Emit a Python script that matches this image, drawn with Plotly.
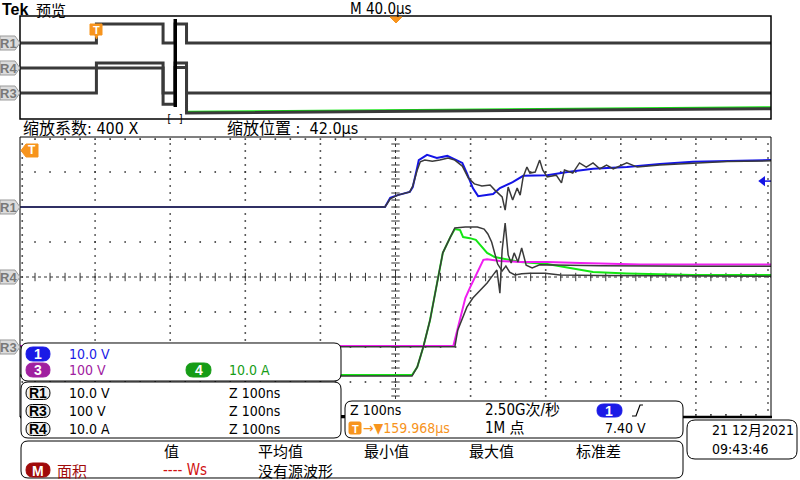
import plotly.graph_objects as go

W, H = 800, 480
FONT = "DejaVu Sans Condensed, Liberation Sans Narrow, Noto Sans CJK SC, sans-serif"
CJK = "Noto Sans CJK SC, sans-serif"
BOLD = "Liberation Sans, DejaVu Sans, sans-serif"

# channel settings: (units per div, offset in div)
CH1 = (10.0, 2.0)     # 10.0 V/div
CH3 = (100.0, -2.0)   # 100 V/div
CH4 = (10.0, 0.0)     # 10.0 A/div
TRIG_LEVEL = 7.40     # V on ch1
TRIG_US = 40.7        # trigger point in record (us)
ZOOM_POS_US = 42.0

# main window, zoomed: time in ns around the zoom position
ch1_t = [-500, -14, -7, 3, 19, 23, 29, 31, 42, 55, 69, 82, 89, 95, 103, 110, 130, 139,
         156, 170, 202, 229, 263, 308, 352, 396, 441, 500]
ch1_v = [0, 0, 2.6, 3.4, 4.3, 5.7, 11.4, 13.4, 14.9, 14.0, 14.6, 13.4, 12.6, 9.7, 5.4, 3.1,
         3.7, 5.4, 7.1, 8.9, 9.1, 10.0, 10.9, 11.4, 12.3, 12.9, 13.1, 13.4]

r1_t = [-500, -14, -7, 3, 19, 23, 29, 33, 39, 49, 59, 70, 79, 89, 97, 105, 115, 126, 132,
        136, 142, 146, 150, 156, 162, 166, 170, 175, 179, 186, 190, 192, 196, 202, 214,
        221, 225, 236, 245, 254, 263, 272, 281, 290, 308, 322, 352, 396, 441, 500]
r1_v = [0, 0, 2.3, 3.4, 4.3, 6.0, 10.6, 12.9, 13.4, 13.1, 13.4, 14.0, 13.4, 11.7, 8.3, 6.6,
        6.0, 6.3, 4.9, 4.0, 2.9, -0.9, 5.7, 2.0, 5.4, 3.4, 8.6, 11.4, 9.7, 10.0, 12.6, 13.4,
        10.6, 8.6, 9.1, 6.9, 10.6, 9.7, 12.6, 11.4, 12.6, 10.9, 12.0, 10.9, 12.6, 11.4,
        12.0, 12.6, 13.0, 13.2]

ch3_t = [-500, 77, 82, 86, 93, 99, 103, 109, 113, 117, 122, 139, 166, 202, 246, 326, 405, 500]
ch3_v = [3, 3, 46, 83, 140, 169, 186, 211, 229, 249, 251, 246, 243, 243, 240, 236, 236, 236]

r3_t = [-500, 79, 83, 89, 95, 103, 113, 122, 130, 135, 139, 142, 146, 150, 154, 158, 163,
        168, 174, 182, 192, 219, 272, 405, 500]
r3_v = [1, 1, 49, 83, 114, 140, 163, 183, 206, 220, 154, 277, 354, 263, 240, 269, 243,
        283, 234, 226, 235, 234, 232, 231, 231]

ch4_t = [-500, 22, 29, 37, 46, 55, 63, 73, 79, 86, 90, 99, 107, 113, 122, 132, 146, 166,
         202, 232, 263, 308, 396, 500]
ch4_a = [-28.0, -28.0, -25.7, -20.0, -12.3, -1.7, 6.9, 11.4, 13.7, 13.4, 11.4, 11.1, 10.6,
         9.1, 6.9, 5.7, 5.1, 4.3, 3.7, 2.6, 1.4, 1.0, 0.6, 0.6]

r4_t = [-500, 22, 29, 37, 46, 55, 63, 73, 79, 93, 109, 118, 123, 128, 132, 136, 142, 147,
        152, 159, 168, 179, 199, 219, 272, 405, 500]
r4_a = [-28.3, -28.3, -25.7, -20.0, -12.3, -1.7, 6.9, 11.4, 14.0, 14.3, 14.3, 13.7, 12.3,
        10.0, 7.1, 3.7, 1.7, 3.1, 1.4, 0.6, 0.9, 1.1, 1.1, 0.6, 0.4, 0.2, 0.2]

# overview record: time in us
ov_t = [0, 40.7, 40.7, 76.2, 76.2, 82.6, 82.6, 88.7, 88.7, 400]
r1o_v = [0, 0, 15.2, 15.2, 0, 0, 15.2, 15.2, 0, 0]
r3o_v = [0, 0, 240, 240, 0, 0, 240, 240, 0, 0]
r4o_t = [0, 76.2, 76.2, 82.6, 82.6, 88.7, 88.7, 400]
r4o_a = [0, 0, -29, -29, 0.5, 0.5, -36, -32.5]
ch4o_t = [88.7, 400]
ch4o_a = [-35, -31.3]


def div(vals, ch):
    s, o = ch
    return [v / s + o for v in vals]


def fx(x):
    return round(x / W, 5)


def fy(y):
    return round(1 - y / H, 5)


fig = go.Figure()

# ---- graticule of main window
gx, gy = [], []
for k in (-3, -2, -1, 1, 2, 3):
    for i in range(-24, 25):
        gx.append(i * 20)
        gy.append(k)
for k in (-400, -300, -200, -100, 100, 200, 300, 400):
    for j in range(-19, 20):
        gx.append(k)
        gy.append(j * 0.2)
fig.add_trace(go.Scatter(x=gx, y=gy, mode="markers",
                         marker=dict(symbol="square", size=1.6, color="#333"),
                         hoverinfo="skip"))
tx = [i * 20 for i in range(-24, 25)]
ty = [j * 0.2 for j in range(-19, 20)]
fig.add_trace(go.Scatter(x=tx, y=[0] * len(tx), mode="markers", hoverinfo="skip",
                         marker=dict(symbol="line-ns", size=6, line=dict(width=1, color="#333"))))
fig.add_trace(go.Scatter(x=[0] * len(ty), y=ty, mode="markers", hoverinfo="skip",
                         marker=dict(symbol="line-ew", size=6, line=dict(width=1, color="#333"))))
ex = tx + tx + [-497] * len(ty) + [496] * len(ty)
ey = [3.94] * len(tx) + [-3.94] * len(tx) + ty + ty
fig.add_trace(go.Scatter(x=ex, y=ey, mode="markers", hoverinfo="skip",
                         marker=dict(symbol="square", size=1.6, color="#333")))
fig.add_shape(type="line", x0=-500, x1=500, y0=0, y1=0, xref="x", yref="y",
              line=dict(color="#333", width=1, dash="dot"), layer="below")
fig.add_shape(type="line", x0=0, x1=0, y0=-4, y1=4, xref="x", yref="y",
              line=dict(color="#333", width=1, dash="dot"), layer="below")

# ---- main waveforms
GRAY = "#3a3a3a"
BLUE = "#1414e6"
MAG = "#f01ef0"
GREEN = "#14e614"
fig.add_trace(go.Scatter(x=ch1_t, y=div(ch1_v, CH1), mode="lines", line=dict(color=BLUE, width=2)))
fig.add_trace(go.Scatter(x=ch4_t, y=div(ch4_a, CH4), mode="lines", line=dict(color=GREEN, width=2)))
fig.add_trace(go.Scatter(x=ch3_t, y=div(ch3_v, CH3), mode="lines", line=dict(color=MAG, width=2)))
fig.add_trace(go.Scatter(x=r1_t, y=div(r1_v, CH1), mode="lines", line=dict(color=GRAY, width=1.5)))
fig.add_trace(go.Scatter(x=r4_t, y=div(r4_a, CH4), mode="lines", line=dict(color=GRAY, width=1.5)))
fig.add_trace(go.Scatter(x=r3_t, y=div(r3_v, CH3), mode="lines", line=dict(color=GRAY, width=1.5)))

# trigger level arrow on the right
lvl = div([TRIG_LEVEL], CH1)
fig.add_trace(go.Scatter(x=[490, 500], y=lvl * 2, mode="lines", line=dict(color=BLUE, width=1.5)))
fig.add_trace(go.Scatter(x=[489], y=lvl, mode="markers",
                         marker=dict(symbol="triangle-left", size=9, color=BLUE)))

# ---- overview waveforms
fig.add_trace(go.Scatter(x=ch4o_t, y=div(ch4o_a, CH4), xaxis="x2", yaxis="y2", mode="lines",
                         line=dict(color=GREEN, width=2)))
for yy in (div(r1o_v, CH1), div(r3o_v, CH3)):
    fig.add_trace(go.Scatter(x=ov_t, y=yy, xaxis="x2", yaxis="y2", mode="lines",
                             line=dict(color=GRAY, width=3)))
fig.add_trace(go.Scatter(x=r4o_t, y=div(r4o_a, CH4), xaxis="x2", yaxis="y2", mode="lines",
                         line=dict(color=GRAY, width=3)))

# zoom window marker in the overview
zx = TRIG_US + ZOOM_POS_US
fig.add_shape(type="line", xref="x2", yref="paper", x0=zx, x1=zx, y0=fy(107), y1=fy(19),
              line=dict(color="black", width=3.5), layer="above")
fig.add_annotation(x=zx, y=fy(111), xref="x2", yref="paper", text="[ ]", showarrow=False,
                   font=dict(family="DejaVu Sans Mono", size=10, color="black"))

# ---- frames
fig.add_shape(type="rect", xref="paper", yref="paper", x0=fx(20), x1=fx(771), y0=fy(119),
              y1=fy(16), line=dict(color="black", width=1.5), layer="above")
fig.add_shape(type="rect", xref="paper", yref="paper", x0=fx(20), x1=fx(771), y0=fy(417),
              y1=fy(137), line=dict(color="black", width=1), layer="above")
fig.add_shape(type="line", xref="paper", yref="paper", x0=fx(20), x1=fx(772), y0=fy(417),
              y1=fy(417), line=dict(color="black", width=2.5), layer="above")


def rrect(x0, y0, x1, y1, r, fill="white", line="black", lw=1):
    p = (f"M{fx(x0 + r)},{fy(y0)} L{fx(x1 - r)},{fy(y0)} Q{fx(x1)},{fy(y0)} {fx(x1)},{fy(y0 + r)} "
         f"L{fx(x1)},{fy(y1 - r)} Q{fx(x1)},{fy(y1)} {fx(x1 - r)},{fy(y1)} "
         f"L{fx(x0 + r)},{fy(y1)} Q{fx(x0)},{fy(y1)} {fx(x0)},{fy(y1 - r)} "
         f"L{fx(x0)},{fy(y0 + r)} Q{fx(x0)},{fy(y0)} {fx(x0 + r)},{fy(y0)} Z")
    fig.add_shape(type="path", path=p, xref="paper", yref="paper", fillcolor=fill,
                  line=dict(color=line, width=lw), layer="above")


def poly(pts, fill, line, lw=1):
    p = "M" + " L".join(f"{fx(a)},{fy(b)}" for a, b in pts) + " Z"
    fig.add_shape(type="path", path=p, xref="paper", yref="paper", fillcolor=fill,
                  line=dict(color=line, width=lw), layer="above")


def txt(x, y, s, size=14, color="black", anchor="left", family=FONT):
    fig.add_annotation(x=fx(x), y=fy(y), xref="paper", yref="paper", text=s, showarrow=False,
                       xanchor=anchor, yanchor="middle", borderpad=0,
                       font=dict(family=family, size=size, color=color))


def pill(x0, y0, x1, y1, label, fill, fg="white", line=None):
    rrect(x0, y0, x1, y1, (y1 - y0) / 2, fill=fill, line=line or fill)
    txt((x0 + x1) / 2, (y0 + y1) / 2 + 0.5, "<b>" + label + "</b>", 14, fg, "center", BOLD)


def side_tag(yc, label):
    poly([(0, yc - 7), (15, yc - 7), (20, yc), (15, yc + 7), (0, yc + 7)], "#dcdcdc", "#9a9a9a")
    txt(8, yc + 0.5, "<b>" + label + "</b>", 13, "#787878", "center", BOLD)


# ---- header texts
txt(1, 10, "<b>Tek</b>", 16, "black", family=BOLD)
txt(35, 10, "预览", 15, family=CJK)
txt(349, 8.5, "M 40.0μs", 15)
poly([(390, 17), (402, 17), (396, 23)], "#f7941d", "#f7941d")

# trigger badge in overview
poly([(90, 24), (102, 24), (102, 35), (98, 35), (96.5, 39), (95, 35), (90, 35)], "#f7941d", "#f7941d")
txt(96, 29.5, "<b>T</b>", 11, "white", "center", BOLD)

# trigger badge in main window (off screen to the left)
poly([(21, 150.5), (26, 144), (38, 144), (38, 157), (26, 157)], "#f7941d", "#f7941d")
txt(31.5, 150.5, "<b>T</b>", 12, "white", "center", BOLD)

for yc, lab in ((43, "R1"), (68, "R4"), (93, "R3"), (207, "R1"), (277, "R4"), (347, "R3")):
    side_tag(yc, lab)

txt(22, 128, "缩放系数: 400 X", 16)
txt(226, 128, "缩放位置 :  42.0μs", 16)

# ---- readout boxes
rrect(21, 343, 341, 381, 7)
pill(26, 347, 50, 361, "1", "#1a1ae6")
txt(68, 354, "10.0 V", 14, "#1a1ae6")
pill(26, 363, 50, 377, "3", "#a020a0")
txt(68, 370, "100 V", 14, "#a020a0")
pill(186, 363, 211, 377, "4", "#169c16")
txt(228, 370, "10.0 A", 14, "#169c16")

rrect(21, 382, 341, 438, 7)
for yc, lab, val in ((393, "R1", "10.0 V"), (411, "R3", "100 V"), (429, "R4", "10.0 A")):
    pill(26, yc - 6.5, 50, yc + 6.5, lab, "#eeeeee", "black", "black")
    txt(68, yc, val)
    txt(228, yc, "Z 100ns")

fig.add_shape(type="rect", xref="paper", yref="paper", x0=fx(341), x1=fx(345), y0=fy(417),
              y1=fy(415), fillcolor="black", line=dict(width=0), layer="above")
rrect(345, 401, 683, 438, 7)
txt(349, 410, "Z 100ns")
txt(484, 410, "2.50G次/秒", 15)
pill(597, 404, 622, 417, "1", "#1a1ae6")
fig.add_shape(type="path", xref="paper", yref="paper", layer="above",
              path=f"M{fx(632)},{fy(416)} L{fx(636)},{fy(416)} L{fx(640)},{fy(405)} L{fx(643)},{fy(405)}",
              line=dict(color="black", width=1.2))
rrect(349, 422, 361, 434, 1.5, fill="#f7941d", line="#f7941d")
txt(355, 428.5, "<b>T</b>", 11, "white", "center", BOLD)
txt(362, 428, "→▼159.968μs", 14, "#f7941d")
txt(484, 428, "1M 点", 15)
txt(604, 428, "7.40 V")

rrect(687, 420, 797, 459, 8)
txt(711, 430, "21 12月2021", 14)
txt(711, 449, "09:43:46", 14)

rrect(21, 441, 683, 478, 7)
txt(163, 450, "值", 15, family=CJK)
txt(257, 450, "平均值", 15, family=CJK)
txt(363, 450, "最小值", 15, family=CJK)
txt(468, 450, "最大值", 15, family=CJK)
txt(575, 450, "标准差", 15, family=CJK)
pill(26, 463, 50, 477, "M", "#a00a0a")
txt(56, 470, "面积", 15, "#a00a0a", family=CJK)
txt(162, 470, "---- Ws", 15, "#d01010")
txt(257, 470, "没有源波形", 15, family=CJK)

fig.update_layout(
    width=W, height=H, margin=dict(l=0, r=0, t=0, b=0),
    paper_bgcolor="white", plot_bgcolor="white", showlegend=False,
    xaxis=dict(domain=[20 / W, 771 / W], range=[-500, 500], visible=False, fixedrange=True),
    yaxis=dict(domain=[1 - 417 / H, 1 - 137 / H], range=[-4, 4], visible=False, fixedrange=True),
    xaxis2=dict(domain=[20 / W, 771 / W], range=[0, 400], anchor="y2", visible=False, fixedrange=True),
    yaxis2=dict(domain=[1 - 119 / H, 1 - 16 / H], range=[-4.08, 4.16], anchor="x2", visible=False,
                fixedrange=True),
)

# the page has a default body margin; drop it so the figure sits at the window corner
fig.write_html("out.html", config={"displayModeBar": False},
               post_script="document.body.style.margin='0';")
